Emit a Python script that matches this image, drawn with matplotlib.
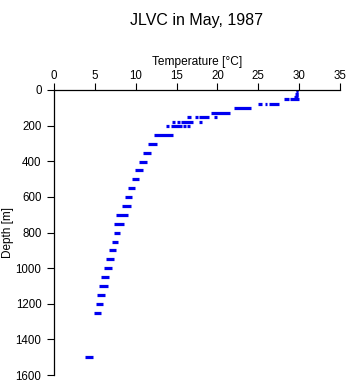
import matplotlib
matplotlib.use("Agg")
import matplotlib.pyplot as plt

plt.rcParams['font.family'] = ['Liberation Sans', 'DejaVu Sans']

# depth levels [m] and temperature runs [degC] read at each level
depths = [0, 10, 20, 30, 40, 52, 79, 103, 127, 154, 178, 204, 253, 303, 352,
          403, 451, 502, 552, 603, 653, 704, 754, 805, 854, 901, 951, 1002,
          1052, 1103, 1153, 1204, 1254, 1501]
temp_runs = [
    [(29.6, 29.9)], [(29.6, 29.9)], [(29.5, 29.9)], [(29.6, 29.9)], [(29.4, 29.9)],
    [(28.2, 28.7), (28.9, 30.0)],
    [(25.0, 25.5), (25.8, 26.1), (26.3, 27.5)],
    [(22.0, 24.1)],
    [(19.2, 21.5)],
    [(16.3, 16.8), (17.2, 17.6), (17.7, 19.0), (19.6, 19.9)],
    [(14.4, 14.8), (15.1, 15.4), (15.6, 17.0), (17.7, 18.1)],
    [(13.7, 14.1), (14.3, 15.7), (15.8, 16.2), (16.3, 16.6)],
    [(12.2, 14.6)],
    [(11.5, 12.6)],
    [(10.9, 11.9)],
    [(10.4, 11.4)],
    [(9.9, 10.9)],
    [(9.5, 10.4)],
    [(9.1, 9.9)],
    [(8.7, 9.5)],
    [(8.3, 9.4)],
    [(7.6, 9.1)],
    [(7.3, 8.6)],
    [(7.3, 8.1)],
    [(7.1, 7.8)],
    [(6.7, 7.6)],
    [(6.4, 7.3)],
    [(6.1, 7.1)],
    [(5.8, 6.7)],
    [(5.5, 6.6)],
    [(5.3, 6.2)],
    [(5.1, 6.0)],
    [(4.9, 5.8)],
    [(3.8, 4.8)],
]
xticks = [0, 5, 10, 15, 20, 25, 30, 35]
yticks = [0, 200, 400, 600, 800, 1000, 1200, 1400, 1600]

fig = plt.figure(figsize=(3.48, 3.84), dpi=100)
ax = fig.add_axes([54 / 348, 9 / 384, 286 / 348, 285 / 384])

for d, runs in zip(depths, temp_runs):
    for t0, t1 in runs:
        ax.hlines(d, t0, t1, colors='#0000f0', linewidth=2.3)

ax.set_xlim(0, 35)
ax.set_ylim(1600, 0)
ax.xaxis.tick_top()
ax.xaxis.set_label_position('top')
ax.set_xticks(xticks)
ax.set_yticks(yticks)
ax.tick_params(direction='out', length=5, width=0.8, labelsize=8.3)
ax.tick_params(axis='x', pad=0.5)
ax.tick_params(axis='y', pad=4)
for s in ['bottom', 'right']:
    ax.spines[s].set_visible(False)
for s in ['top', 'left']:
    ax.spines[s].set_linewidth(0.9)
ax.set_xlabel('Temperature [°C]', fontsize=8.6, labelpad=4)
ax.set_ylabel('Depth [m]', fontsize=8.5, labelpad=1)
fig.text(197 / 348, 1 - 20 / 384, 'JLVC in May, 1987', ha='center', va='center', fontsize=11.5)

fig.savefig('out.png', dpi=100)
